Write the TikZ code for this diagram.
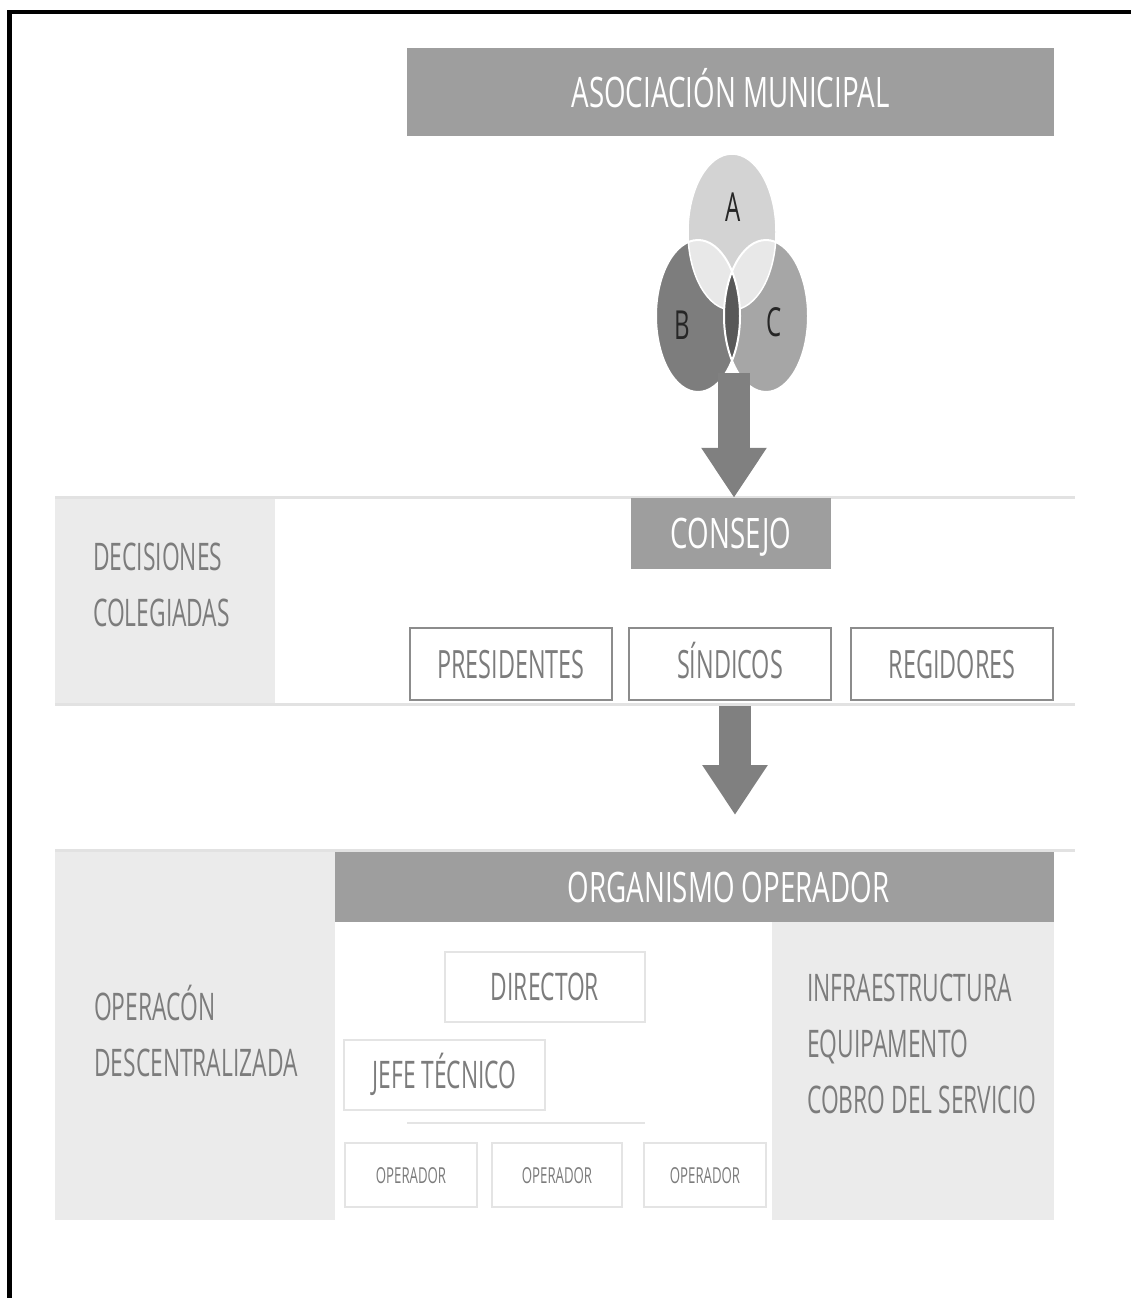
\documentclass[tikz,border=0pt]{standalone}
\usepackage{fontspec}
\newfontfamily\cf[FakeStretch=0.6]{Open Sans}
\newfontfamily\cfw[FakeStretch=0.66]{Open Sans}
\usetikzlibrary{arrows.meta}
\definecolor{hdrgray}{HTML}{9E9E9E}
\definecolor{panelgray}{HTML}{EBEBEB}
\definecolor{linegray}{HTML}{E2E2E2}
\definecolor{txtgray}{HTML}{7C7C7C}
\definecolor{boxline}{HTML}{8C8C8C}
\definecolor{faintline}{HTML}{E4E4E4}
\definecolor{arrowgray}{HTML}{808080}
\definecolor{vA}{HTML}{D3D3D3}
\definecolor{vB}{HTML}{7D7D7D}
\definecolor{vC}{HTML}{A6A6A6}
\definecolor{vAB}{HTML}{E8E8E8}
\definecolor{vBC}{HTML}{585858}
\begin{document}
\begin{tikzpicture}[x=1pt,y=-1pt,
  hdrbox/.style={fill=hdrgray, text=white, inner sep=0pt,
    text height=30pt, text depth=0pt,
    font=\cfw\fontsize{42}{50}\selectfont},
  membox/.style={draw=boxline, line width=2.5pt, fill=white, text=txtgray, inner sep=0pt,
    text height=28pt, text depth=0pt,
    minimum width=202pt, minimum height=72pt, font=\cf\fontsize{39}{46}\selectfont},
  softbox/.style={draw=faintline, line width=2pt, fill=white, text=txtgray, inner sep=0pt,
    text height=27pt, text depth=0pt,
    font=\cf\fontsize{38}{46}\selectfont},
  opbox/.style={draw=faintline, line width=2pt, fill=white, text=txtgray, inner sep=0pt,
    text height=16pt, text depth=0pt,
    minimum height=64pt, font=\cf\fontsize{22}{26}\selectfont},
  lbl/.style={text=txtgray, align=left, inner sep=0pt, anchor=west,
    font=\cf\fontsize{38}{56}\selectfont},
  vlet/.style={text=black!85, inner sep=0pt, font=\cf\fontsize{40}{44}\selectfont},
  bigarrow/.style={draw=arrowgray, line width=32pt,
    -{Triangle[width=62pt,length=50pt]}},
  bandline/.style={draw=linegray, line width=3pt}
]
\useasboundingbox (0,0) rectangle (1131,1298);
\fill[white] (0,0) rectangle (1131,1298);
% frame (top and left only)
\draw[line width=4.5pt] (9.5,1298) -- (9.5,12) -- (1131,12);

% ---------- header ----------
\node[hdrbox, minimum width=647pt, minimum height=88pt] (asoc) at (730.5,92) {ASOCIACIÓN MUNICIPAL};

% ---------- Venn ----------
\coordinate (ca) at (732,232);
\coordinate (cb) at (698,316);
\coordinate (cc) at (766,316);
\fill[vA] (ca) ellipse [x radius=44, y radius=78];
\fill[vB] (cb) ellipse [x radius=42, y radius=76];
\fill[vC] (cc) ellipse [x radius=42, y radius=76];
\begin{scope}
  \clip (ca) ellipse [x radius=44, y radius=78];
  \fill[vAB] (cb) ellipse [x radius=42, y radius=76];
  \fill[vAB] (cc) ellipse [x radius=42, y radius=76];
\end{scope}
\draw[white, line width=1.5pt] (ca) ellipse [x radius=44, y radius=78];
\begin{scope}
  \clip (cb) ellipse [x radius=42, y radius=76];
  \fill[vBC] (cc) ellipse [x radius=42, y radius=76];
\end{scope}
\draw[white, line width=2pt] (cb) ellipse [x radius=42, y radius=76];
\draw[white, line width=2pt] (cc) ellipse [x radius=42, y radius=76];
\node[vlet] (la) at (733,207) {A};
\node[vlet] (lb) at (682,325) {B};
\node[vlet] (lc) at (774,322) {C};
\coordinate (vbot) at (734,373);

% ---------- band 2 ----------
\fill[panelgray] (55,497) rectangle (275,705);
\draw[bandline] (55,497) -- (1075,497);
\draw[bandline] (55,704) -- (1075,704);
\node[hdrbox, minimum width=200pt, minimum height=71pt] (cons) at (731,533.5) {CONSEJO};
\node[lbl] (dec) at (93,585) {DECISIONES\\COLEGIADAS};
\node[membox] (pres) at (511,664) {PRESIDENTES};
\node[membox] (sind) at (730,664) {SÍNDICOS};
\node[membox] (regi) at (952,664) {REGIDORES};

% arrow 1
\draw[bigarrow] (vbot) -- (vbot |- cons.north);

% arrow 2
\coordinate (a2s) at (735,706);
\coordinate (a2e) at (735,815);
\draw[bigarrow] (a2s) -- (a2e);

% ---------- band 3 ----------
\fill[panelgray] (55,850) rectangle (335,1220);
\fill[panelgray] (772,922) rectangle (1054,1220);
\draw[bandline] (55,850) -- (1075,850);
\node[hdrbox, minimum width=719pt, minimum height=70pt] (org) at (694.5,887) {\hspace*{68pt}ORGANISMO OPERADOR};
\node[lbl] (opd) at (94,1031) {OPERACÓN\\DESCENTRALIZADA};
\node[lbl] (inf) at (807,1043.5) {INFRAESTRUCTURA\\EQUIPAMENTO\\COBRO DEL SERVICIO};

\node[softbox, minimum width=200pt, minimum height=70pt] (dir) at (545,987) {DIRECTOR};
\node[softbox, minimum width=201pt, minimum height=70pt] (jefe) at (444.5,1075) {JEFE TÉCNICO};
\coordinate (l1) at (407,1123);
\coordinate (l2) at (645,1123);
\draw[faintline, line width=2pt] (l1) -- (l2);
\node[opbox, minimum width=132pt] (op1) at (411,1175) {OPERADOR};
\node[opbox, minimum width=130pt] (op2) at (557,1175) {OPERADOR};
\node[opbox, minimum width=122pt] (op3) at (705,1175) {OPERADOR};
\end{tikzpicture}
\end{document}
